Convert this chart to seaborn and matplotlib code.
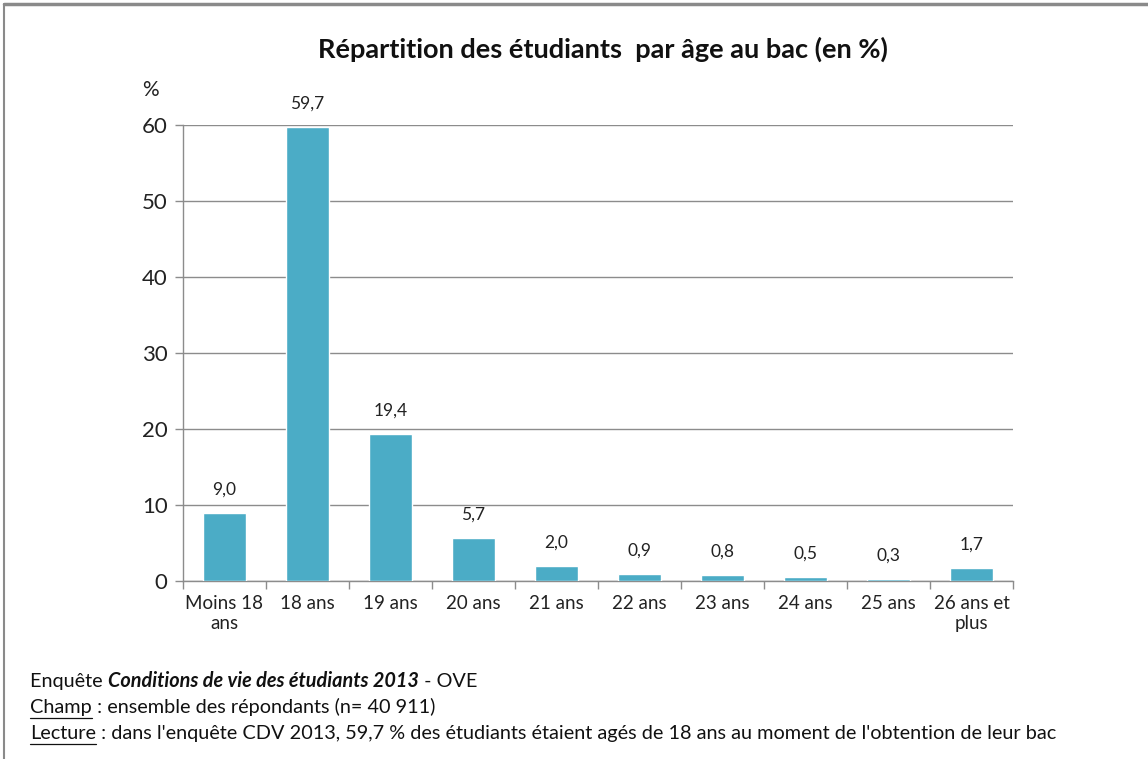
import matplotlib
matplotlib.use("Agg")
import matplotlib.pyplot as plt
import seaborn as sns
import pandas as pd
import numpy as np
from matplotlib.lines import Line2D

# data
ages = ["Moins 18\nans", "18 ans", "19 ans", "20 ans", "21 ans", "22 ans",
        "23 ans", "24 ans", "25 ans", "26 ans et\nplus"]
shares = [9.0, 59.7, 19.4, 5.7, 2.0, 0.9, 0.8, 0.5, 0.3, 1.7]
yticks = [0, 10, 20, 30, 40, 50, 60]

df = pd.DataFrame({"age": ages, "pct": shares})

sns.set_style("white")
plt.rcParams['font.family'] = ['Lato', 'DejaVu Sans']

fig = plt.figure(figsize=(11.48, 7.59), dpi=100)
ax = fig.add_axes([0.1594, 0.2345, 0.723, 0.601])

sns.barplot(data=df, x="age", y="pct", color="#4BACC6", width=0.51,
            saturation=1, ax=ax, zorder=3)

ax.set_ylim(0, 60)
ax.set_xlim(-0.5, len(ages) - 0.5)
ax.set_yticks(yticks)
ax.set_yticklabels([str(v) for v in yticks], fontsize=16, color="#222222")
ax.yaxis.grid(True, color="#8c8c8c", linewidth=1, zorder=0)
ax.set_xlabel("")
ax.set_ylabel("")
ax.tick_params(axis="x", length=0, labelsize=13.5, pad=10, labelcolor="#222222")
ax.tick_params(axis="y", length=6, width=1, color="#8c8c8c", left=True, pad=5)
ax.set_xticks(np.arange(-0.5, len(ages)), minor=True)
ax.tick_params(axis="x", which="minor", length=6, width=1, color="#8c8c8c", bottom=True)

for s in ["top", "right"]:
    ax.spines[s].set_visible(False)
for s in ["left", "bottom"]:
    ax.spines[s].set_color("#8c8c8c")
    ax.spines[s].set_linewidth(1)

for i, v in enumerate(shares):
    ax.annotate(f"{v:.1f}".replace(".", ","), (i, v), xytext=(0, 11),
                textcoords="offset points", ha="center", va="bottom",
                fontsize=12.5, color="#222222")

fig.text(0.525, 0.935, "Répartition des étudiants  par âge au bac (en %)",
         ha="center", va="center", fontsize=19.5, fontweight="bold", color="#111111")
fig.text(0.131, 0.881, "%", ha="center", va="center", fontsize=15, color="#222222")

# notes at the bottom, pieces placed one after another
fig.canvas.draw()
renderer = fig.canvas.get_renderer()
inv = fig.transFigure.inverted()


def line_of_text(y, parts):
    x = 30 / 1148
    for txt, style, under in parts:
        t = fig.text(x, y, txt, fontsize=14.3, color="#111111", va="baseline",
                     fontweight="bold" if "b" in style else "normal",
                     fontstyle="italic" if "i" in style else "normal")
        bb = t.get_window_extent(renderer)
        (x0, _), (x1, _) = inv.transform([(bb.x0, bb.y0), (bb.x1, bb.y1)])
        if under:
            fig.add_artist(Line2D([x0, x1], [y - 0.006, y - 0.006],
                                  transform=fig.transFigure, color="#111111", lw=0.9))
        x = x1


line_of_text(1 - 687 / 759, [("Enquête ", "", False),
                             ("Conditions de vie des étudiants 2013", "bi", False),
                             (" - OVE", "", False)])
line_of_text(1 - 713 / 759, [("Champ", "", True),
                             (" : ensemble des répondants (n= 40 911)", "", False)])
line_of_text(1 - 739 / 759, [("Lecture", "", True),
                             (" : dans l'enquête CDV 2013, 59,7 % des étudiants étaient agés de 18 ans au moment de l'obtention de leur bac", "", False)])

# outer frame (top and left edges)
fig.add_artist(Line2D([4 / 1148, 1], [1 - 4 / 759, 1 - 4 / 759],
                      transform=fig.transFigure, color="#8a8a8a", lw=2.5))
fig.add_artist(Line2D([4 / 1148, 4 / 1148], [0, 1 - 4 / 759],
                      transform=fig.transFigure, color="#8a8a8a", lw=1.5))

fig.savefig("out.png", dpi=100)
